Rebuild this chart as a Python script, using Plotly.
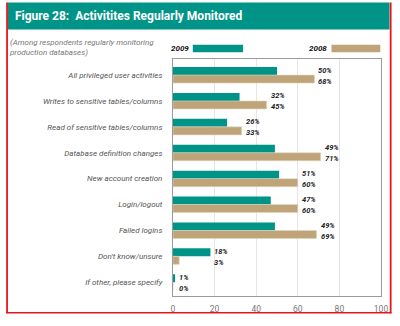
import plotly.graph_objects as go

categories = [
    "All privileged user activities",
    "Writes to sensitive tables/columns",
    "Read of sensitive tables/columns",
    "Database definition changes",
    "New account creation",
    "Login/logout",
    "Failed logins",
    "Don't know/unsure",
    "If other, please specify",
]
v2009 = [50, 32, 26, 49, 51, 47, 49, 18, 1]
v2008 = [68, 45, 33, 71, 60, 60, 69, 3, 0]
x_ticks = [0, 20, 40, 60, 80, 100]

TEAL = "#009488"
TAN = "#BFA47A"
FONT = "Roboto"

W, H = 400, 326
L, R, T, B = 172.5, 387.7, 59, 307

def px(x):
    return (x - L) / (R - L)

def py(y):
    return (B - y) / (B - T)

fig = go.Figure()
fig.add_trace(go.Bar(y=categories, x=v2009, orientation="h", name="2009",
                     marker=dict(color=TEAL, line=dict(width=0))))
fig.add_trace(go.Bar(y=categories, x=v2008, orientation="h", name="2008",
                     marker=dict(color=TAN, line=dict(color="#E3D6C0", width=0.6))))

lab_font = dict(family=FONT, size=7.5, color="#222", weight="bold", style="italic")
ann = []
for c, a, b in zip(categories, v2009, v2008):
    m = max(a, b)
    ann.append(dict(x=m, y=c, xref="x", yref="y", text=f"{a}%", showarrow=False,
                    xanchor="left", yanchor="middle", xshift=2, yshift=5, font=lab_font))
    ann.append(dict(x=m, y=c, xref="x", yref="y", text=f"{b}%", showarrow=False,
                    xanchor="left", yanchor="middle", xshift=2, yshift=-6, font=lab_font))

# title
ann.append(dict(x=px(7), y=py(14.5), xref="paper", yref="paper", text="Figure 28:  Activitites Regularly Monitored",
                showarrow=False, xanchor="left", yanchor="middle",
                font=dict(family=FONT, size=12, color="white", weight="bold")))
# subtitle
ann.append(dict(x=px(1), y=py(46.5), xref="paper", yref="paper",
                text="(Among respondents regularly monitoring<br>production databases)",
                showarrow=False, xanchor="left", yanchor="middle", align="left",
                font=dict(family=FONT, size=8, color="#777", style="italic")))
# legend texts
leg_font = dict(family=FONT, size=8, color="#111", weight="bold", style="italic")
ann.append(dict(x=px(191), y=py(48.5), xref="paper", yref="paper", text="2009", showarrow=False,
                xanchor="right", yanchor="middle", font=leg_font))
ann.append(dict(x=px(334), y=py(48.5), xref="paper", yref="paper", text="2008", showarrow=False,
                xanchor="right", yanchor="middle", font=leg_font))

shapes = [
    # title bar
    dict(type="rect", xref="paper", yref="paper", x0=px(1.5), x1=px(396.5), y0=py(28), y1=py(0),
         fillcolor=TEAL, line=dict(width=0), layer="below"),
    # legend swatches
    dict(type="rect", xref="paper", yref="paper", x0=px(193), x1=px(245), y0=py(52), y1=py(44),
         fillcolor=TEAL, line=dict(width=0)),
    dict(type="rect", xref="paper", yref="paper", x0=px(336.5), x1=px(387), y0=py(52), y1=py(44),
         fillcolor=TAN, line=dict(width=0)),
    # red border
    dict(type="line", xref="paper", yref="paper", x0=px(0.8), x1=px(0.8), y0=py(0), y1=py(325),
         line=dict(color="#E8141B", width=1.8)),
    dict(type="line", xref="paper", yref="paper", x0=px(397.7), x1=px(397.7), y0=py(0), y1=py(325),
         line=dict(color="#E8141B", width=1.8)),
    dict(type="line", xref="paper", yref="paper", x0=px(0), x1=px(398.6), y0=py(324.6), y1=py(324.6),
         line=dict(color="#E8141B", width=1.6)),
]

fig.update_layout(
    width=W, height=H,
    margin=dict(l=L, r=W - R, t=T, b=H - B),
    paper_bgcolor="white", plot_bgcolor="white",
    barmode="group", bargap=0.38, bargroupgap=0,
    showlegend=False,
    annotations=ann, shapes=shapes,
    xaxis=dict(range=[0, 100], tickvals=x_ticks, showgrid=True, gridcolor="#E6E6E6", gridwidth=1,
               showline=True, linecolor="#9A9A9A", linewidth=1, mirror=True, zeroline=False,
               ticks="", tickfont=dict(family=FONT, size=8.5, color="#777"), ticklabelstandoff=5,
               fixedrange=True),
    yaxis=dict(type="category", categoryorder="array", categoryarray=categories,
               range=[8.53, -0.62], showline=True, linecolor="#9A9A9A", linewidth=1, mirror=True,
               ticks="", showgrid=False,
               tickfont=dict(family=FONT, size=8, color="#555", style="italic"), ticklabelstandoff=8,
               fixedrange=True),
)

fig.write_html("out.html")
